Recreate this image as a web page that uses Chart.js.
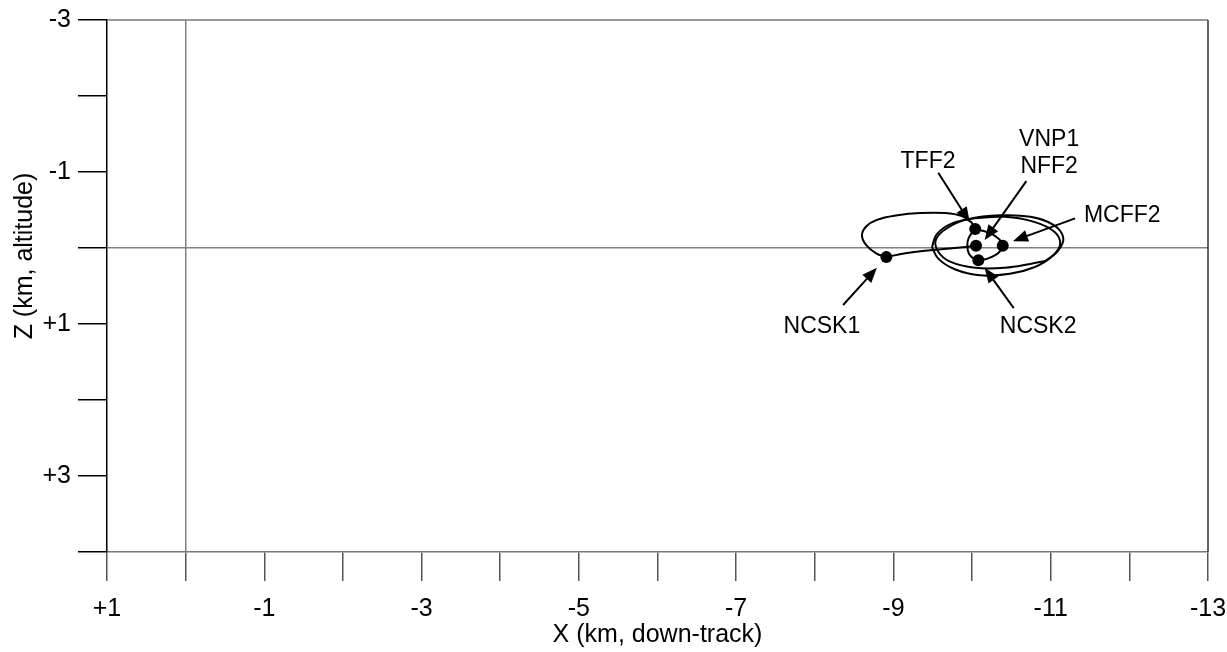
<!DOCTYPE html>
<html>
<head>
<meta charset="utf-8">
<script src="https://cdn.jsdelivr.net/npm/chart.js@4.4.1/dist/chart.umd.min.js"></script>
<style>
html,body{margin:0;padding:0;background:#fff;}
canvas{display:block;}
</style>
</head>
<body>
<canvas id="c" width="1227" height="652"></canvas>
<script>
// ---- data (X km down-track, Z km altitude) ----
const loopX = [-8.91, -8.78, -8.66, -8.60, -8.65, -8.79, -9.05, -9.34, -9.66, -9.87, -9.99, -10.04];
const loopZ = [0.12, 0.07, -0.03, -0.16, -0.28, -0.37, -0.43, -0.46, -0.46, -0.42, -0.34, -0.25];

const lineX = [-8.91, -9.15, -9.47, -9.78, -10.05];
const lineZ = [0.12, 0.07, 0.03, 0.00, -0.03];

const innerX = [-10.04, -10.22, -10.34, -10.39, -10.30, -10.08, -9.97, -9.94, -9.96, -10.04];
const innerZ = [-0.25, -0.20, -0.12, -0.03, 0.09, 0.16, 0.09, -0.03, -0.14, -0.25];

const ellipse1X = [-9.49, -9.57, -9.78, -10.10, -10.48, -10.80, -11.02, -11.12, -11.05, -10.80, -10.42, -10.04, -9.74, -9.55, -9.49];
const ellipse1Z = [-0.01, 0.14, 0.28, 0.36, 0.34, 0.25, 0.11, -0.05, -0.21, -0.34, -0.41, -0.39, -0.32, -0.18, -0.01];

const ellipse2X = [-10.93, -11.09, -11.16, -11.04, -10.74, -10.36, -9.95, -9.68, -9.54, -9.57, -9.72, -10.04, -10.42, -10.74, -10.93];
const ellipse2Z = [0.17, 0.04, -0.13, -0.30, -0.41, -0.43, -0.38, -0.26, -0.11, 0.05, 0.18, 0.26, 0.26, 0.21, 0.17];

const burnNames = ['NCSK1', 'TFF2', 'NFF2', 'MCFF2', 'NCSK2'];
const burnX = [-8.91, -10.04, -10.05, -10.39, -10.08];
const burnZ = [0.12, -0.25, -0.03, -0.03, 0.16];

const labelText = ['TFF2', 'VNP1', 'NFF2', 'MCFF2', 'NCSK2', 'NCSK1'];
const labelX = [-9.44, -10.98, -10.98, -11.91, -10.84, -8.09];
const labelZ = [-1.14, -1.42, -1.07, -0.43, 1.04, 1.04];

const arrowFromX = [-9.57, -10.69, -11.31, -10.53, -8.36];
const arrowFromZ = [-0.99, -0.88, -0.39, 0.79, 0.75];
const arrowToX = [-9.97, -10.16, -10.52, -10.16, -8.79];
const arrowToZ = [-0.34, -0.105, -0.09, 0.26, 0.26];

const xTickMin = -13, xTickMax = 1;
const zTickMin = -3, zTickMax = 4;
const xTitle = 'X (km, down-track)';
const zTitle = 'Z (km, altitude)';

// ---- build ----
const pts = (xs, zs) => xs.map((x, i) => ({x: x, y: zs[i]}));
const FONT = '"Liberation Sans", Arial, Helvetica, sans-serif';
Chart.defaults.font.family = FONT;
Chart.defaults.color = '#000';

function signLabel(v) {
  if (Math.abs(Math.round(v)) % 2 !== 1) return '';
  return v > 0 ? '+' + v : String(v);
}

const pathStyle = {showLine: true, pointRadius: 0, borderColor: '#000', borderWidth: 2, tension: 0.4, fill: false};

const annotPlugin = {
  id: 'annot',
  afterDatasetsDraw(chart) {
    const {ctx, scales: {x, y}, chartArea: ca} = chart;
    ctx.save();
    // top and right frame
    ctx.lineWidth = 1.5;
    ctx.strokeStyle = '#777';
    ctx.beginPath(); ctx.moveTo(ca.left, ca.top); ctx.lineTo(ca.right, ca.top); ctx.stroke();
    ctx.strokeStyle = '#333';
    ctx.beginPath(); ctx.moveTo(ca.right, ca.top); ctx.lineTo(ca.right, ca.bottom); ctx.stroke();
    // arrows
    ctx.fillStyle = '#000';
    ctx.strokeStyle = '#000';
    ctx.lineWidth = 2;
    for (let i = 0; i < arrowFromX.length; i++) {
      const x0 = x.getPixelForValue(arrowFromX[i]), y0 = y.getPixelForValue(arrowFromZ[i]);
      const x1 = x.getPixelForValue(arrowToX[i]), y1 = y.getPixelForValue(arrowToZ[i]);
      const ang = Math.atan2(y1 - y0, x1 - x0);
      const hl = 15, hw = 6;
      const bx = x1 - hl * Math.cos(ang), by = y1 - hl * Math.sin(ang);
      ctx.beginPath(); ctx.moveTo(x0, y0); ctx.lineTo(bx + 2 * Math.cos(ang), by + 2 * Math.sin(ang)); ctx.stroke();
      ctx.beginPath();
      ctx.moveTo(x1, y1);
      ctx.lineTo(bx + hw * Math.sin(ang), by - hw * Math.cos(ang));
      ctx.lineTo(bx - hw * Math.sin(ang), by + hw * Math.cos(ang));
      ctx.closePath(); ctx.fill();
    }
    // labels
    ctx.font = '23px ' + FONT;
    ctx.textAlign = 'center';
    ctx.textBaseline = 'middle';
    for (let i = 0; i < labelText.length; i++) {
      ctx.fillText(labelText[i], x.getPixelForValue(labelX[i]), y.getPixelForValue(labelZ[i]));
    }
    // y axis title
    ctx.font = '25px ' + FONT;
    ctx.translate(25, 256);
    ctx.rotate(-Math.PI / 2);
    ctx.fillText(zTitle, 0, 0);
    ctx.restore();
  }
};

new Chart(document.getElementById('c'), {
  type: 'scatter',
  data: {
    datasets: [
      Object.assign({label: 'loop', data: pts(loopX, loopZ)}, pathStyle),
      Object.assign({label: 'line', data: pts(lineX, lineZ)}, pathStyle),
      Object.assign({label: 'inner', data: pts(innerX, innerZ)}, pathStyle),
      Object.assign({label: 'ellipse1', data: pts(ellipse1X, ellipse1Z)}, pathStyle),
      Object.assign({label: 'ellipse2', data: pts(ellipse2X, ellipse2Z)}, pathStyle),
      {label: 'burns', data: pts(burnX, burnZ), showLine: false, pointRadius: 6,
       pointBackgroundColor: '#000', pointBorderColor: '#000', pointBorderWidth: 0}
    ]
  },
  options: {
    responsive: false,
    animation: false,
    devicePixelRatio: 1,
    layout: {padding: {left: 0, top: 20, right: 19, bottom: 0}},
    plugins: {legend: {display: false}, tooltip: {enabled: false}},
    scales: {
      x: {
        type: 'linear', min: xTickMin, max: xTickMax, reverse: true,
        afterFit(s) { s.height = 100; s.paddingLeft = 0; s.paddingRight = 0; },
        ticks: {stepSize: 1, autoSkip: false, maxRotation: 0, padding: 13,
                font: {size: 25, family: FONT}, color: '#000', callback: v => signLabel(v)},
        grid: {drawOnChartArea: true, tickLength: 29, lineWidth: 1.5,
               color: c => (c.tick && c.tick.value === 0) ? '#808080' : 'rgba(0,0,0,0)',
               tickColor: '#555', tickWidth: 1.5},
        border: {display: true, color: '#777', width: 1.5},
        title: {display: true, text: xTitle, font: {size: 25, family: FONT}, color: '#000',
                padding: {top: 0, bottom: 2}}
      },
      y: {
        type: 'linear', min: zTickMin, max: zTickMax, reverse: true,
        afterFit(s) { s.width = 107; s.paddingTop = 0; s.paddingBottom = 0; },
        ticks: {stepSize: 1, autoSkip: false, padding: 7,
                font: {size: 25, family: FONT}, color: '#000', callback: v => signLabel(v)},
        grid: {drawOnChartArea: true, tickLength: 29, lineWidth: 1.5,
               color: c => (c.tick && c.tick.value === 0) ? '#808080' : 'rgba(0,0,0,0)',
               tickColor: '#000', tickWidth: 1.5},
        border: {display: true, color: '#000', width: 1.5}
      }
    }
  },
  plugins: [annotPlugin]
});
</script>
</body>
</html>
